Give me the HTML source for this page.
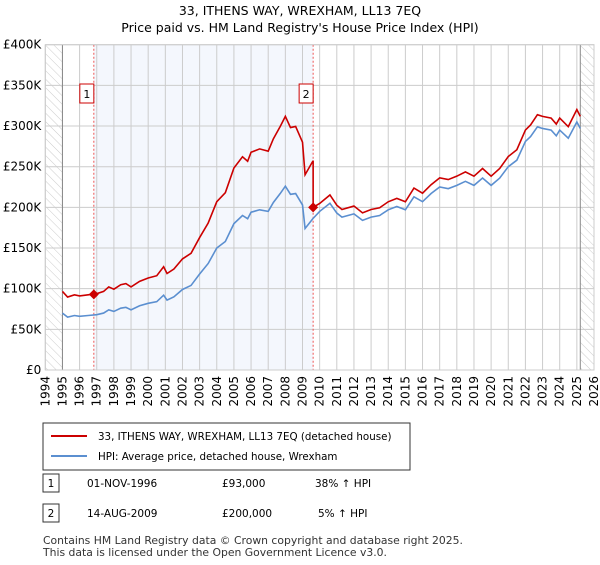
<!DOCTYPE html>
<html><head><meta charset="utf-8"><style>
body{margin:0;background:#fff;font-family:"Liberation Sans","DejaVu Sans",sans-serif;}
svg text{font-family:"DejaVu Sans","Liberation Sans",sans-serif;}
</style></head><body>
<svg id="c" width="600" height="560" xmlns="http://www.w3.org/2000/svg">
<defs><pattern id="hatch" width="6" height="6" patternUnits="userSpaceOnUse" patternTransform="rotate(-45)"><line x1="0" y1="0" x2="0" y2="6" stroke="#ccc" stroke-width="1"/></pattern></defs>
<text x="300" y="15" text-anchor="middle" font-size="12.5">33, ITHENS WAY, WREXHAM, LL13 7EQ</text>
<text x="300" y="32" text-anchor="middle" font-size="12.5">Price paid vs. HM Land Registry's House Price Index (HPI)</text>
<g id="plot"></g>
<rect x="43" y="423" width="367" height="47" fill="#fff" stroke="#333"/>
<line x1="51" y1="436" x2="87" y2="436" stroke="#cc0000" stroke-width="2"/>
<text x="98" y="440" font-size="10.3">33, ITHENS WAY, WREXHAM, LL13 7EQ (detached house)</text>
<line x1="51" y1="456" x2="87" y2="456" stroke="#5b8fd0" stroke-width="2"/>
<text x="98" y="460" font-size="10.3">HPI: Average price, detached house, Wrexham</text>
<rect x="43" y="474" width="16" height="18" fill="#fff" stroke="#333"/>
<text x="51" y="487" text-anchor="middle" font-size="10.5">1</text>
<text x="87" y="487" font-size="10.5">01-NOV-1996</text>
<text x="222" y="487" font-size="10.5">£93,000</text>
<text x="315" y="487" font-size="10.5">38% ↑ HPI</text>
<rect x="43" y="504" width="16" height="18" fill="#fff" stroke="#333"/>
<text x="51" y="517" text-anchor="middle" font-size="10.5">2</text>
<text x="87" y="517" font-size="10.5">14-AUG-2009</text>
<text x="222" y="517" font-size="10.5">£200,000</text>
<text x="318" y="517" font-size="10.5">5% ↑ HPI</text>
<text x="43" y="544" font-size="10.8" fill="#333">Contains HM Land Registry data © Crown copyright and database right 2025.</text>
<text x="43" y="556" font-size="10.8" fill="#333">This data is licensed under the Open Government Licence v3.0.</text>
</svg>
<script>
const hpiYears=[1995,1995.3,1995.7,1996,1996.5,1997,1997.4,1997.7,1998,1998.4,1998.7,1999,1999.5,2000,2000.5,2000.9,2001.1,2001.5,2002,2002.5,2003,2003.5,2004,2004.5,2005,2005.5,2005.8,2006,2006.5,2007,2007.3,2007.7,2008,2008.3,2008.6,2009,2009.15,2009.3,2009.6,2010,2010.6,2011,2011.3,2012,2012.5,2013,2013.5,2014,2014.5,2015,2015.5,2016,2016.5,2017,2017.5,2018,2018.5,2019,2019.5,2020,2020.5,2021,2021.5,2022,2022.3,2022.7,2023,2023.5,2023.8,2024,2024.5,2025,2025.2];
const hpiValues=[70,65,67,66,67,68,70,74,72,76,77,74,79,82,84,92,86,90,99,104,118,131,150,158,180,190,186,194,197,195,206,217,226,216,217,203,174,178,186,195,205,193,188,192,184,188,190,197,201,197,213,207,217,225,223,227,232,227,236,227,236,250,258,281,287,299,297,295,288,295,285,305,297];
const saleYears=[1996.83,2009.62];
const salePrices=[93,200];
const salePremium=[1.38,1.05];
const yTicks=[0,50,100,150,200,250,300,350,400];
const yTickLabels=["£0","£50K","£100K","£150K","£200K","£250K","£300K","£350K","£400K"];
const xTicks=[1994,1995,1996,1997,1998,1999,2000,2001,2002,2003,2004,2005,2006,2007,2008,2009,2010,2011,2012,2013,2014,2015,2016,2017,2018,2019,2020,2021,2022,2023,2024,2025,2026];
const dataStart=1995,dataEnd=2025.2;
const X0=45.3,X1=594,Y0=370,Y1=44.7;
const xs=y=>X0+(y-1994)/(2026-1994)*(X1-X0);
const ys=v=>Y0-v/400*(Y0-Y1);
const NS="http://www.w3.org/2000/svg";
const g=document.getElementById('plot');
function mk(t,a){const e=document.createElementNS(NS,t);for(const k in a)e.setAttribute(k,a[k]);g.appendChild(e);return e;}
let e;
e=mk('rect',{x:xs(saleYears[0]),y:Y1,width:xs(saleYears[1])-xs(saleYears[0]),height:Y0-Y1,fill:'#f4f7fd'});


e=mk('rect',{x:X0,y:Y1,width:xs(dataStart)-X0,height:Y0-Y1,fill:'url(#hatch)'});


e=mk('rect',{x:xs(dataEnd),y:Y1,width:X1-xs(dataEnd),height:Y0-Y1,fill:'url(#hatch)'});


yTicks.forEach((t,i)=>{
 e=mk('line',{x1:X0,x2:X1,y1:ys(t),y2:ys(t),stroke:'#ccc'});
 
 
 e=mk('text',{x:X0-4,y:ys(t)+4,'text-anchor':'end','font-size':12});
 e.textContent=yTickLabels[i];
 
 
});
xTicks.forEach(t=>{
 e=mk('line',{x1:xs(t),x2:xs(t),y1:Y1,y2:Y0,stroke:'#ccc'});
 
 
 e=mk('text',{x:0,y:0,'text-anchor':'end','font-size':12,transform:`translate(${xs(t)+4},${Y0+6}) rotate(-90)`});
 e.textContent=t;
 
 
});
e=mk('line',{x1:xs(dataStart),x2:xs(dataStart),y1:Y1,y2:Y0,stroke:'#888'});


e=mk('line',{x1:xs(dataEnd),x2:xs(dataEnd),y1:Y1,y2:Y0,stroke:'#888'});


saleYears.forEach((s,i)=>{
 e=mk('line',{x1:xs(s),x2:xs(s),y1:Y1,y2:Y0,stroke:'#e55','stroke-dasharray':'2,2'});
 
 
 e=mk('rect',{x:xs(s)-14,y:84,width:14,height:19,fill:'#fff',stroke:'#cc0000'});
 
 
 e=mk('text',{x:xs(s)-7,y:98,'text-anchor':'middle','font-size':11});
 e.textContent=String(i+1);
 
 
});
e=mk('polyline',{points:hpiYears.map((y,i)=>xs(y)+','+ys(hpiValues[i])).join(' '),fill:'none',stroke:'#5b8fd0','stroke-width':1.6});


let pts=[];
hpiYears.forEach((y,i)=>{
 if(y<saleYears[1]) pts.push(xs(y)+','+ys(hpiValues[i]*salePremium[0]));
});
pts.push(xs(saleYears[1])+','+ys(hpiValues[hpiYears.findIndex(y=>y>=saleYears[1])-1]*salePremium[0]));
pts.push(xs(saleYears[1])+','+ys(salePrices[1]));
hpiYears.forEach((y,i)=>{
 if(y>saleYears[1]) pts.push(xs(y)+','+ys(hpiValues[i]*salePremium[1]));
});
e=mk('polyline',{points:pts.join(' '),fill:'none',stroke:'#cc0000','stroke-width':1.6});


saleYears.forEach((s,i)=>{
 const cx=xs(s),cy=ys(salePrices[i]);
 e=mk('polygon',{points:`${cx},${cy-5} ${cx+5},${cy} ${cx},${cy+5} ${cx-5},${cy}`,fill:'#cc0000'});
 
 
});
e=mk('rect',{x:X0,y:Y1,width:X1-X0,height:Y0-Y1,fill:'none',stroke:'#ccc'});


</script>
</body></html>
